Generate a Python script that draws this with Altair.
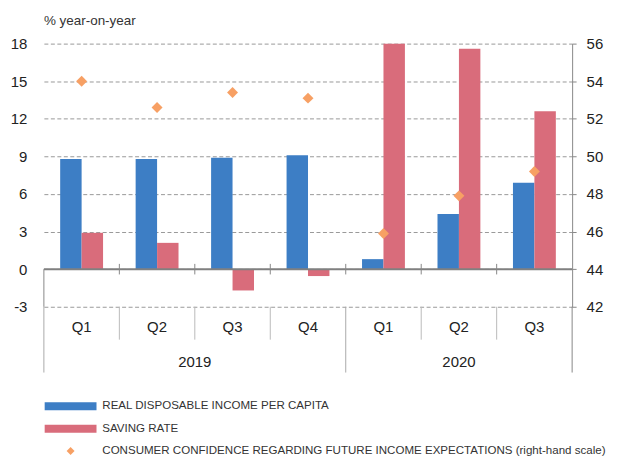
import altair as alt
import pandas as pd

# ---- data ----
categories = ["2019 Q1", "2019 Q2", "2019 Q3", "2019 Q4", "2020 Q1", "2020 Q2", "2020 Q3"]
income = [8.8, 8.8, 8.9, 9.1, 0.8, 4.4, 6.9]
saving = [2.9, 2.1, -1.7, -0.55, 18.0, 17.6, 12.6]
confidence = [54.0, 52.6, 53.4, 53.1, 45.9, 47.9, 49.2]
series_names = [
    "REAL DISPOSABLE INCOME PER CAPITA",
    "SAVING RATE",
    "CONSUMER CONFIDENCE REGARDING FUTURE INCOME EXPECTATIONS (right-hand scale)",
]
series_colors = ["#3D7EC5", "#D96C7B", "#F7A064"]
left_ticks = [-3, 0, 3, 6, 9, 12, 15, 18]
right_ticks = [42, 44, 46, 48, 50, 52, 54, 56]
years = ["2019", "2020"]

FONT = "Liberation Sans, Arial, sans-serif"
RECT = "M-6.5,-1H6.5V1H-6.5Z"

bar_df = pd.DataFrame(
    [{"cat": c, "series": series_names[0], "value": v} for c, v in zip(categories, income)]
    + [{"cat": c, "series": series_names[1], "value": v} for c, v in zip(categories, saving)]
)
pt_df = pd.DataFrame({"cat": categories, "series": series_names[2], "confidence": confidence})

legend_spec = alt.Legend(
    title=None, orient="none", legendX=21, legendY=358, direction="vertical",
    symbolSize=64, symbolStrokeWidth=0, symbolOpacity=1,
    labelFont=FONT, labelFontSize=11.6, labelColor="#333", labelOffset=26,
    labelLimit=700, rowPadding=9.5, padding=0,
)

color_scale = alt.Scale(domain=series_names, range=series_colors)
x_scale = alt.Scale(domain=categories, paddingInner=0, paddingOuter=0)
yl_scale = alt.Scale(domain=[-3, 18], nice=False, zero=False)

x_axis = alt.Axis(title=None, ticks=False, domain=False, labelAngle=0,
                  labelExpr="substring(datum.label, 5, 7)", labelPadding=20,
                  labelBaseline="middle", labelFont=FONT, labelFontSize=15,
                  labelColor="#222")
y_axis = alt.Axis(title=None, values=left_ticks, grid=True, gridDash=[4, 2.5],
                  gridColor="#9a9a9a", gridWidth=1, domain=False, ticks=False,
                  labelExpr="'' + datum.value",
                  labelPadding=17, labelFont=FONT, labelFontSize=15, labelColor="#222")

bars = alt.Chart(bar_df).mark_bar().encode(
    x=alt.X("cat:N", sort=categories, scale=x_scale, axis=x_axis),
    xOffset=alt.XOffset("series:N", sort=series_names[:2],
                        scale=alt.Scale(domain=series_names[:2], paddingInner=0, paddingOuter=0.76)),
    y=alt.Y("value:Q", scale=yl_scale, axis=y_axis),
    color=alt.Color("series:N", scale=color_scale, legend=legend_spec),
)

zero_df = pd.DataFrame({"value": [0]})
zero_line = alt.Chart(zero_df).mark_rule(color="#808080", strokeWidth=2).encode(
    y=alt.Y("value:Q", axis=y_axis)
)

inner_df = pd.DataFrame({"cat": categories[1:], "value": 0.42, "low": -0.42})
zero_ticks = alt.Chart(inner_df).mark_rule(color="#888", strokeWidth=1).encode(
    x=alt.X("cat:N", bandPosition=0, axis=x_axis),
    y=alt.Y("value:Q", axis=y_axis),
    y2="low:Q",
)

q_df = pd.DataFrame({"cat": [c for i, c in enumerate(categories) if i > 0 and not c.endswith("Q1")]})
q_sep = alt.Chart(q_df).mark_rule(color="#bbbbbb", strokeWidth=1).encode(
    x=alt.X("cat:N", bandPosition=0, axis=x_axis),
    y=alt.value(264), y2=alt.value(297),
)

ystart_df = pd.DataFrame({"cat": [c for c in categories if c.endswith("Q1")]})
year_sep_low = alt.Chart(ystart_df).mark_rule(color="#aaaaaa", strokeWidth=1).encode(
    x=alt.X("cat:N", bandPosition=0, axis=x_axis),
    y=alt.value(264), y2=alt.value(330),
)
edge_df = pd.DataFrame({"cat": categories[:1], "value": 0, "low": -3})
left_edge = alt.Chart(edge_df).mark_rule(color="#888", strokeWidth=1).encode(
    x=alt.X("cat:N", bandPosition=0, axis=x_axis),
    y=alt.Y("value:Q", axis=y_axis), y2="low:Q",
)
end_df = pd.DataFrame({"cat": categories[-1:]})
right_edge = alt.Chart(end_df).mark_rule(color="#888", strokeWidth=1).encode(
    x=alt.X("cat:N", bandPosition=1, axis=x_axis),
    y=alt.value(264), y2=alt.value(330),
)

year_df = pd.DataFrame({"year": years, "cat": ["2019 Q2", "2020 Q2"]})
year_2019 = alt.Chart(year_df.iloc[:1]).mark_text(
    font=FONT, fontSize=15, color="#222", baseline="middle", align="center"
).encode(x=alt.X("cat:N", bandPosition=1, axis=x_axis), y=alt.value(319.5), text="year:N")
year_2020 = alt.Chart(year_df.iloc[1:]).mark_text(
    font=FONT, fontSize=15, color="#222", baseline="middle", align="center"
).encode(x=alt.X("cat:N", bandPosition=0.5, axis=x_axis), y=alt.value(319.5), text="year:N")

left_group = alt.layer(bars, zero_line, zero_ticks, q_sep, year_sep_low, left_edge,
                       right_edge, year_2019, year_2020)

points = alt.Chart(pt_df).mark_point(filled=True, size=121, opacity=1).encode(
    x=alt.X("cat:N", sort=categories, axis=x_axis),
    y=alt.Y("confidence:Q", scale=alt.Scale(domain=[42, 56], nice=False, zero=False),
            axis=alt.Axis(orient="right", title=None, values=right_ticks, grid=False,
                          domainColor="#888", domainWidth=1, tickColor="#888", tickSize=4,
                          labelPadding=10, labelFont=FONT, labelFontSize=15, labelColor="#222")),
    color=alt.Color("series:N", scale=color_scale, legend=legend_spec),
    shape=alt.Shape("series:N", scale=alt.Scale(domain=series_names, range=[RECT, RECT, "diamond"]),
                    legend=legend_spec),
)

chart = alt.layer(left_group, points).resolve_scale(y="independent").properties(
    width=530, height=264,
    padding={"left": 36, "top": 35, "right": 40, "bottom": 150},
    autosize=alt.AutoSizeParams(type="none"),
    title=alt.TitleParams("% year-on-year", anchor="start", frame="group", font=FONT,
                          fontSize=13.5, fontWeight="normal", color="#333", offset=9),
).configure_view(stroke=None)

chart.save("out.html", embed_options={"renderer": "svg", "actions": False})
